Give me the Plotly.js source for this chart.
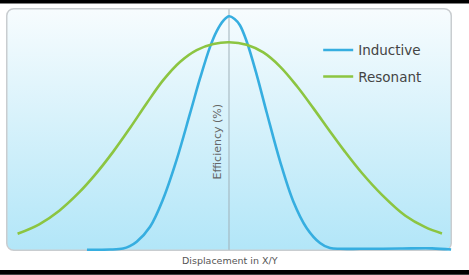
<!DOCTYPE html>
<html>
<head>
<meta charset="utf-8">
<script src="https://cdn.plot.ly/plotly-3.0.1.min.js"></script>
<style>
  html, body { margin: 0; padding: 0; background: #ffffff; overflow: hidden; }
  #chart { width: 469px; height: 275px; }
</style>
</head>
<body>
<div id="chart"></div>
<script>
// Displacement (arbitrary units, 0 = aligned) and efficiency (%)
const inductiveX = [-6.37, -5.34, -4.75, -4.45, -4.14, -3.54, -2.95, -2.35, -1.75, -1.30, -0.85, -0.55, -0.25, 0.0, 0.25, 0.49, 0.79, 1.24, 1.69, 2.29, 2.88, 3.48, 4.08, 4.53, 5.00, 5.87, 7.67, 9.10, 9.96];
const inductiveY = [0.5, 0.6, 1.0, 2.0, 3.8, 10.0, 21.5, 37.5, 56.5, 71.0, 84.0, 90.5, 94.8, 96.6, 95.5, 92.9, 86.3, 72.6, 57.0, 36.9, 20.5, 9.5, 3.3, 1.2, 0.9, 0.9, 1.0, 1.1, 0.6];
const resonantX = [-9.48, -8.51, -7.61, -6.71, -6.04, -5.19, -4.44, -3.69, -2.95, -2.20, -1.45, -0.70, 0.0, 0.79, 1.54, 2.29, 3.04, 3.78, 4.53, 5.19, 5.96, 6.86, 7.91, 8.80, 9.55];
const resonantY = [7.1, 11.0, 16.6, 24.2, 31.0, 40.9, 50.6, 60.8, 70.3, 77.8, 82.7, 85.2, 85.9, 84.9, 81.7, 75.9, 67.9, 58.8, 49.2, 41.0, 32.1, 23.1, 14.5, 9.8, 7.2];
const seriesNames = ["Inductive", "Resonant"];
const xTitle = "Displacement in X/Y";
const yTitle = "Efficiency (%)";

const bgSvg = '<svg xmlns="http://www.w3.org/2000/svg" width="446" height="243" viewBox="0 0 446 243" preserveAspectRatio="none">' +
  '<defs><linearGradient id="g" x1="0" y1="0" x2="0" y2="1">' +
  '<stop offset="0" stop-color="#f7fcfe"/><stop offset="0.45" stop-color="#d8f2fb"/><stop offset="1" stop-color="#b2e6f8"/>' +
  '</linearGradient></defs>' +
  '<rect x="0.75" y="0.75" width="444.5" height="241.5" rx="7" ry="7" fill="url(#g)" stroke="#c9cdd0" stroke-width="1.5"/>' +
  '</svg>';
const bgUri = 'data:image/svg+xml;charset=utf-8,' + encodeURIComponent(bgSvg);

const traces = [
  {
    x: inductiveX, y: inductiveY, name: seriesNames[0], type: 'scatter', mode: 'lines',
    line: { color: '#36aee0', width: 2.6, shape: 'spline', smoothing: 1.0 },
    legendgroup: 'a'
  },
  {
    x: resonantX, y: resonantY, name: seriesNames[1], type: 'scatter', mode: 'lines',
    line: { color: '#8cc541', width: 2.6, shape: 'spline', smoothing: 1.0 },
    legendgroup: 'b'
  }
];

const layout = {
  width: 469, height: 275,
  margin: { l: 6, r: 17, t: 8, b: 24 },
  paper_bgcolor: '#ffffff',
  plot_bgcolor: 'rgba(0,0,0,0)',
  showlegend: true,
  legend: {
    x: 0.70, y: 0.89, xanchor: 'left', yanchor: 'top',
    bgcolor: 'rgba(0,0,0,0)',
    font: { family: 'DejaVu Sans, sans-serif', size: 13.5, color: '#444444' },
    traceorder: 'grouped', tracegroupgap: 6
  },
  xaxis: { range: [-10, 10], showgrid: false, zeroline: false, showticklabels: false, showline: false, ticks: '', fixedrange: true },
  yaxis: { range: [0, 100], showgrid: false, zeroline: false, showticklabels: false, showline: false, ticks: '', fixedrange: true },
  images: [{
    source: bgUri, xref: 'paper', yref: 'paper', x: 0, y: 1, sizex: 1, sizey: 1,
    sizing: 'stretch', xanchor: 'left', yanchor: 'top', layer: 'below'
  }],
  shapes: [
    { type: 'line', xref: 'x', yref: 'paper', x0: 0, x1: 0, y0: 0.005, y1: 0.995, line: { color: '#9fb1b9', width: 1 }, layer: 'below' },
    { type: 'rect', xref: 'paper', yref: 'paper', x0: -0.02, x1: 1.05, y0: 1.0185, y1: 1.0329, fillcolor: '#000000', line: { width: 0 } },
    { type: 'rect', xref: 'paper', yref: 'paper', x0: -0.02, x1: 1.05, y0: -0.098, y1: -0.078, fillcolor: '#000000', line: { width: 0 } }
  ],
  annotations: [
    { text: xTitle, xref: 'paper', yref: 'paper', x: 0.502, y: -0.041, xanchor: 'center', yanchor: 'middle', showarrow: false,
      font: { family: 'DejaVu Sans, sans-serif', size: 9.5, color: '#555555' } },
    { text: yTitle, xref: 'x', yref: 'paper', x: -0.5, y: 0.45, xanchor: 'center', yanchor: 'middle', showarrow: false, textangle: -90,
      font: { family: 'DejaVu Sans, sans-serif', size: 11, color: '#666666' } }
  ]
};

Plotly.newPlot('chart', traces, layout, { staticPlot: true, displayModeBar: false });
</script>
</body>
</html>
